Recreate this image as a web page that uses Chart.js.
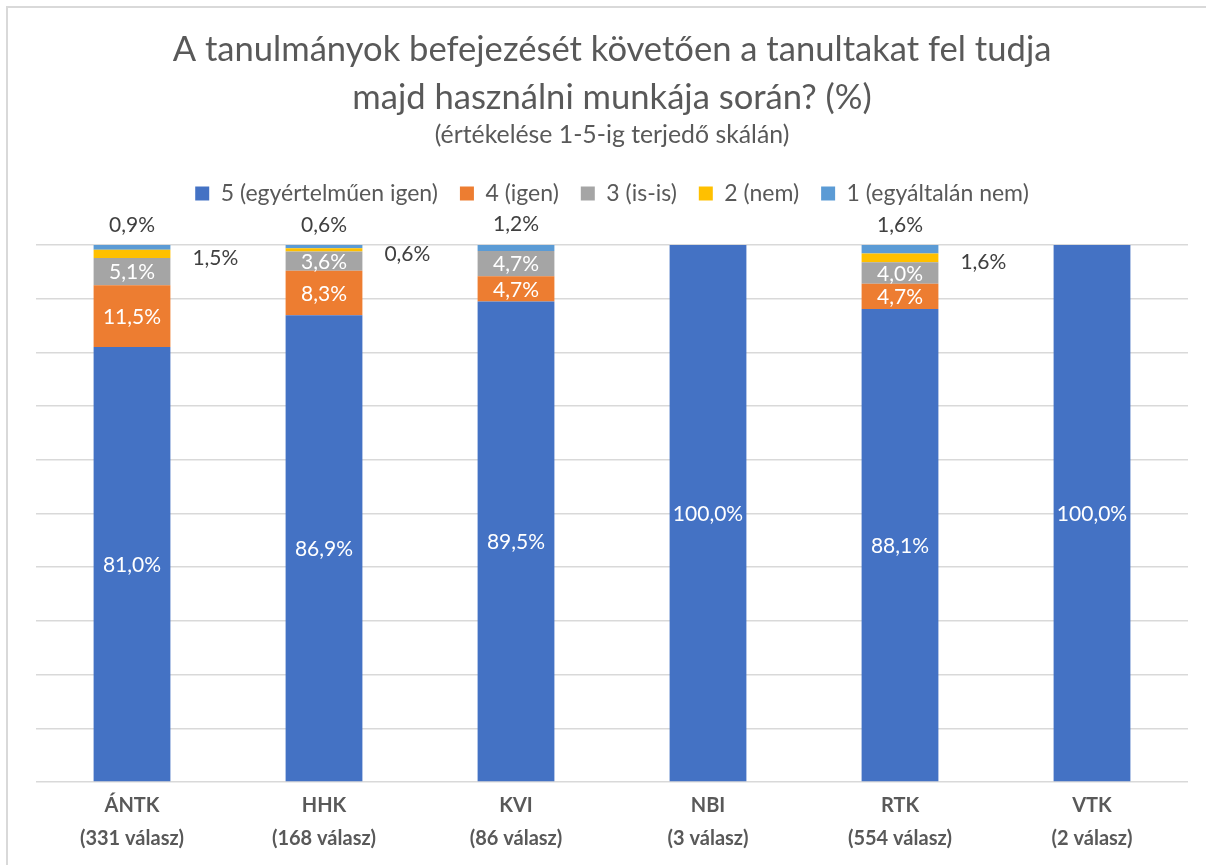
<!DOCTYPE html>
<html lang="hu">
<head>
<meta charset="utf-8">
<script src="https://cdn.jsdelivr.net/npm/chart.js@4/dist/chart.umd.min.js"></script>
<style>
  html, body { margin: 0; padding: 0; background: #ffffff; }
  #wrap { position: absolute; left: 0; top: 0; width: 1206px; height: 865px; }
  #frame { position: absolute; left: 6px; top: 6px; width: 1220px; height: 880px;
           border-left: 2px solid #d9d9d9; border-top: 2px solid #d9d9d9; pointer-events: none; }
  canvas { position: absolute; left: 0; top: 0; }
</style>
</head>
<body>
<div id="wrap">
  <canvas id="chart" width="1206" height="865"></canvas>
  <div id="frame"></div>
</div>
<script>
// Karok és válaszszámok
const categories = [
  ['ÁNTK', '(331 válasz)'],
  ['HHK', '(168 válasz)'],
  ['KVI', '(86 válasz)'],
  ['NBI', '(3 válasz)'],
  ['RTK', '(554 válasz)'],
  ['VTK', '(2 válasz)']
];

// Megoszlás értékelés szerint (%)
const ertek5 = [81.0, 86.9, 89.5, 100.0, 88.1, 100.0];
const ertek4 = [11.5, 8.3, 4.7, 0, 4.7, 0];
const ertek3 = [5.1, 3.6, 4.7, 0, 4.0, 0];
const ertek2 = [1.5, 0.6, 0, 0, 1.6, 0];
const ertek1 = [0.9, 0.6, 1.2, 0, 1.6, 0];

const seriesNames = ['5 (egyértelműen igen)', '4 (igen)', '3 (is-is)', '2 (nem)', '1 (egyáltalán nem)'];
const seriesColors = ['#4472C4', '#ED7D31', '#A5A5A5', '#FFC000', '#5B9BD5'];

const FONT = 'Lato, "Open Sans", sans-serif';

const fmt = v => v.toFixed(1).replace('.', ',') + '%';

// Adatfeliratok: a nagyobb szeletek közepére fehérrel, a két legkisebb kategória kívülre
const valueLabels = {
  id: 'valueLabels',
  afterDatasetsDraw(chart) {
    const ctx = chart.ctx;
    ctx.save();
    ctx.font = '21px ' + FONT;
    chart.data.datasets.forEach((ds, di) => {
      const meta = chart.getDatasetMeta(di);
      if (meta.hidden) return;
      meta.data.forEach((bar, i) => {
        const v = ds.data[i];
        if (!v) return;
        const p = bar.getProps(['x', 'y', 'base', 'width'], true);
        const txt = fmt(v);
        ctx.textBaseline = 'middle';
        if (di <= 2) {
          ctx.fillStyle = '#ffffff';
          ctx.textAlign = 'center';
          ctx.fillText(txt, p.x, (p.y + p.base) / 2 + 1);
        } else if (di === 3) {
          ctx.fillStyle = '#404040';
          ctx.textAlign = 'left';
          ctx.fillText(txt, p.x + p.width / 2 + 22, (p.y + p.base) / 2 + 4);
        } else {
          ctx.fillStyle = '#404040';
          ctx.textAlign = 'center';
          ctx.fillText(txt, p.x, p.y - 20);
        }
      });
    });
    ctx.restore();
  }
};

// Extra hely a jelmagyarázat alatt, hogy a külső feliratok elférjenek
const legendGap = {
  id: 'legendGap',
  beforeInit(chart) {
    const legend = chart.legend;
    const origFit = legend.fit;
    legend.fit = function () {
      origFit.call(this);
      this.height += 30;
    };
  }
};

const allSeries = [ertek5, ertek4, ertek3, ertek2, ertek1];

new Chart(document.getElementById('chart'), {
  type: 'bar',
  data: {
    labels: categories,
    datasets: allSeries.map((d, k) => ({
      label: seriesNames[k],
      data: d,
      backgroundColor: seriesColors[k],
      borderWidth: 0,
      categoryPercentage: 1,
      barPercentage: 0.4
    }))
  },
  options: {
    responsive: false,
    animation: false,
    layout: { padding: { left: 36, right: 18, top: 0, bottom: 3 } },
    plugins: {
      title: {
        display: true,
        text: ['A tanulmányok befejezését követően a tanultakat fel tudja', 'majd használni munkája során? (%)'],
        color: '#595959',
        font: { family: FONT, size: 34.6, weight: 'normal', lineHeight: 48 / 34.6 },
        padding: { top: 26, bottom: 0 }
      },
      subtitle: {
        display: true,
        text: '(értékelése 1-5-ig terjedő skálán)',
        color: '#595959',
        font: { family: FONT, size: 24.8, weight: 'normal', lineHeight: 26 / 24.8 },
        padding: { top: 0, bottom: 12 }
      },
      legend: {
        display: true,
        position: 'top',
        labels: {
          color: '#595959',
          font: { family: FONT, size: 23 },
          boxWidth: 14,
          boxHeight: 14,
          padding: 22
        }
      },
      tooltip: { enabled: false }
    },
    scales: {
      x: {
        stacked: true,
        grid: { display: false, drawTicks: false },
        border: { display: false },
        ticks: {
          color: '#595959',
          font: { family: FONT, size: 20, weight: 'bold', lineHeight: 1.65 },
          padding: 7,
          maxRotation: 0
        }
      },
      y: {
        stacked: true,
        min: 0,
        max: 100,
        ticks: { display: false, stepSize: 10 },
        grid: { color: '#d9d9d9', lineWidth: 1.5, drawTicks: false },
        border: { display: false }
      }
    }
  },
  plugins: [valueLabels, legendGap]
});
</script>
</body>
</html>
